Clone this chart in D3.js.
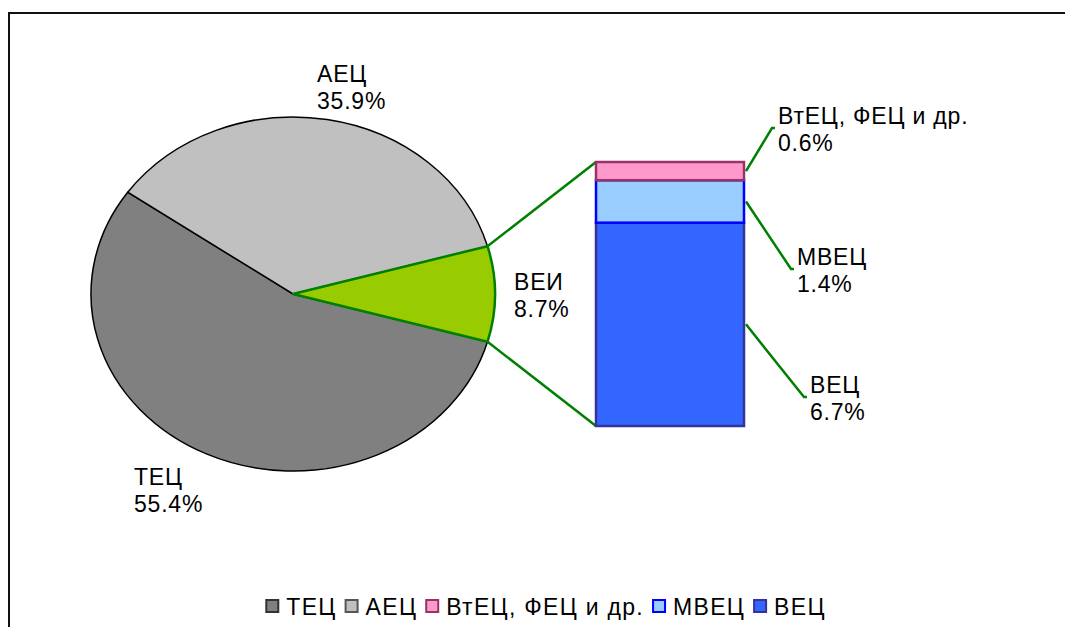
<!DOCTYPE html>
<html>
<head>
<meta charset="utf-8">
<script src="https://cdn.jsdelivr.net/npm/d3@7"></script>
<style>
  body { margin: 0; background: #fff; }
  text { font-family: "Liberation Sans", Arial, sans-serif; fill: #000; }
</style>
</head>
<body>
<div class="chart"></div>
<script>
// pie data
const pieCats = ["ТЕЦ", "АЕЦ", "ВЕИ"];
const pieVals = [55.4, 35.9, 8.7];
const pieColors = ["#808080", "#c0c0c0", "#99cc00"];

// bar-of-pie data (split of ВЕИ), bottom to top
const barCats = ["ВЕЦ", "МВЕЦ", "ВтЕЦ, ФЕЦ и др."];
const barVals = [6.7, 1.4, 0.6];
const barFill = ["#3366ff", "#99ccff", "#ff99cc"];
const barStroke = ["#333399", "#0000ff", "#993366"];

// legend order
const legendCats = ["ТЕЦ", "АЕЦ", "ВтЕЦ, ФЕЦ и др.", "МВЕЦ", "ВЕЦ"];
const legendFill = ["#808080", "#c0c0c0", "#ff99cc", "#99ccff", "#3366ff"];
const legendStroke = ["#333", "#555", "#993366", "#0000ff", "#333399"];

const W = 1065, H = 627;
const svg = d3.select(".chart").append("svg")
  .attr("width", W)
  .attr("height", H);

// frame
svg.append("rect")
  .attr("x", 9).attr("y", 13)
  .attr("width", W + 20).attr("height", H + 20)
  .attr("fill", "none")
  .attr("stroke", "#111")
  .attr("stroke-width", 2);

// pie, drawn on a circle then squashed into an ellipse
const cx = 293, cy = 294, rx = 202, ry = 177;
const share = pieVals[2] / d3.sum(pieVals);
const start = Math.PI / 2 - Math.PI * share;

// clockwise from ВЕИ: ВЕИ, ТЕЦ, АЕЦ
const order = [2, 0, 1];
const pie = d3.pie().sort(null).value(i => pieVals[i])
  .startAngle(start).endAngle(start + 2 * Math.PI);
const arcs = pie(order);
const arc = d3.arc().innerRadius(0).outerRadius(rx);

const pieG = svg.append("g")
  .attr("transform", `translate(${cx},${cy}) scale(1,${ry / rx})`);

pieG.selectAll("path.main")
  .data(arcs.filter(a => a.data !== 2))
  .join("path")
  .attr("class", "main")
  .attr("d", arc)
  .attr("fill", a => pieColors[a.data])
  .attr("stroke", "#000")
  .attr("stroke-width", 1.5)
  .attr("vector-effect", "non-scaling-stroke");

pieG.selectAll("path.vei")
  .data(arcs.filter(a => a.data === 2))
  .join("path")
  .attr("class", "vei")
  .attr("d", arc)
  .attr("fill", pieColors[2])
  .attr("stroke", "#008000")
  .attr("stroke-width", 2.5)
  .attr("stroke-linejoin", "round")
  .attr("vector-effect", "non-scaling-stroke");

const veiArc = arcs.find(a => a.data === 2);
const edge = a => [cx + rx * Math.sin(a), cy - ry * Math.cos(a)];
const p0 = edge(veiArc.startAngle), p1 = edge(veiArc.endAngle);

// stacked bar
const barX = 596, barW = 148;
const y = d3.scaleLinear().domain([0, d3.sum(barVals)]).range([426, 162]);
const cum = d3.cumsum(barVals);
const segs = barVals.map((v, i) => ({ v, i, lo: cum[i] - v, hi: cum[i] }));

// connector lines
svg.append("line")
  .attr("x1", p0[0]).attr("y1", p0[1])
  .attr("x2", barX).attr("y2", y(d3.sum(barVals)))
  .attr("stroke", "#008000").attr("stroke-width", 2.5);
svg.append("line")
  .attr("x1", p1[0]).attr("y1", p1[1])
  .attr("x2", barX).attr("y2", y(0))
  .attr("stroke", "#008000").attr("stroke-width", 2.5);

svg.selectAll("rect.seg")
  .data(segs)
  .join("rect")
  .attr("class", "seg")
  .attr("x", barX)
  .attr("y", d => y(d.hi))
  .attr("width", barW)
  .attr("height", d => y(d.lo) - y(d.hi))
  .attr("fill", d => barFill[d.i])
  .attr("stroke", d => barStroke[d.i])
  .attr("stroke-width", 2.5);

const labelFont = "23px", labelSpacing = "0.8px";

// bar labels with leader lines
const barLabelPos = [[810, 397], [797, 269], [778, 128]];
segs.forEach(d => {
  const [lx, ly] = barLabelPos[d.i];
  const my = (y(d.lo) + y(d.hi)) / 2;
  svg.append("polyline")
    .attr("points", `${barX + barW + 2},${my} ${lx - 6},${ly} ${lx - 3},${ly}`)
    .attr("fill", "none")
    .attr("stroke", "#008000")
    .attr("stroke-width", 2.5);
  const t = svg.append("text").attr("x", lx).attr("y", ly - 4)
    .style("font-size", labelFont).style("letter-spacing", labelSpacing);
  t.append("tspan").attr("x", lx).text(barCats[d.i]);
  t.append("tspan").attr("x", lx).attr("dy", 27).text(d.v.toFixed(1) + "%");
});

// pie labels
const pieLabelPos = [[134, 485], [317, 82], [514, 290]];
pieCats.forEach((c, i) => {
  const [lx, ly] = pieLabelPos[i];
  const t = svg.append("text").attr("x", lx).attr("y", ly)
    .style("font-size", labelFont).style("letter-spacing", labelSpacing);
  t.append("tspan").attr("x", lx).text(c);
  t.append("tspan").attr("x", lx).attr("dy", 27).text(pieVals[i].toFixed(1) + "%");
});

// legend
const legend = svg.append("g");
let lxPos = 0;
legendCats.forEach((c, i) => {
  const g = legend.append("g").attr("transform", `translate(${lxPos},0)`);
  g.append("rect")
    .attr("x", 0).attr("y", -15)
    .attr("width", 12).attr("height", 12)
    .attr("fill", legendFill[i])
    .attr("stroke", legendStroke[i])
    .attr("stroke-width", 2);
  const t = g.append("text")
    .attr("x", 20).attr("y", 0)
    .style("font-size", "23px")
    .style("letter-spacing", "1.3px")
    .text(c);
  lxPos += 20 + t.node().getComputedTextLength() + 9;
});
const legendW = lxPos - 9;
legend.attr("transform", `translate(${(259 + 833) / 2 - legendW / 2},615)`);
</script>
</body>
</html>
